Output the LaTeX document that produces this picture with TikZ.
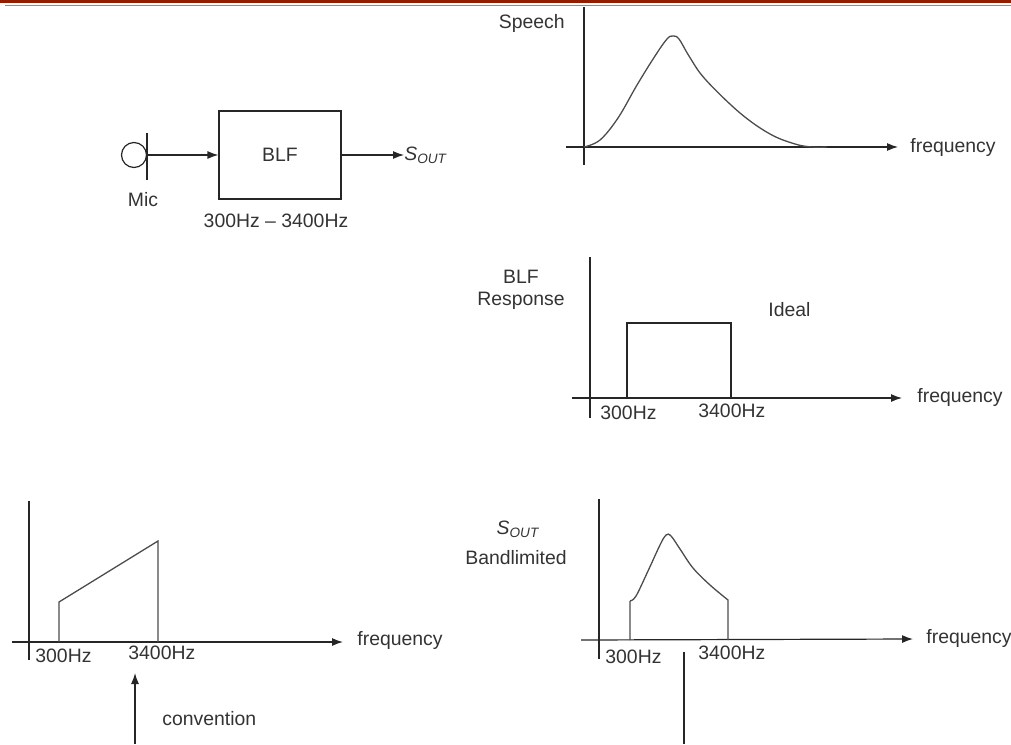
\documentclass[tikz,border=0pt]{standalone}
\usepackage{fontspec}
\setmainfont{Liberation Sans}
\usetikzlibrary{arrows.meta,positioning}
\definecolor{rulered}{RGB}{145,28,0}
\tikzset{
  axis/.style={draw=black!85,line width=0.6pt},
  sig/.style={draw=black!70,line width=0.65pt},
  lbl/.style={inner sep=0pt,text=black!80,font=\fontsize{9.7}{11}\selectfont},
  tip/.style={-{Latex[length=5.5pt,width=4pt]}}
}
\newcommand{\soutlbl}{{\itshape S\textsubscript{OUT}}}

\begin{document}
\begin{tikzpicture}[x=0.5pt,y=-0.5pt]
  \useasboundingbox (0,0) rectangle (1011,744);
  % page header rule
  \fill[rulered] (0,0) rectangle (1011,3);
  \draw[black!45,line width=0.7pt] (5,5.5) -- (1011,5.5);

  % microphone and band limiting filter
  \begin{scope}
    \node[axis,circle,minimum size=12.5pt,inner sep=0pt] (mic) at (134,155) {};
    \coordinate (bartop) at (147,133);
    \coordinate (barbot) at (147,180);
    \draw[axis] (bartop) -- (barbot);
    \node[axis,lbl,minimum width=61pt,minimum height=44pt] (blf) at (280,155) {BLF};
    \node[lbl,anchor=west] (soutA) at (404,155) {\soutlbl};
    \draw[axis,tip] (bartop |- mic) -- (blf.west);
    \draw[axis,tip] (blf.east) -- (soutA.west);
    \node[lbl] (miclbl) at (143,200) {Mic};
    \node[lbl] (band) at (276,221) {300Hz -- 3400Hz};
  \end{scope}

  % speech spectrum
  \begin{scope}
    \coordinate (spTop) at (584,7);
    \coordinate (spBot) at (584,165);
    \coordinate (spL) at (566,147);
    \node[lbl,anchor=west] (spF) at (910,147) {frequency};
    \node[lbl,anchor=east] (spY) at (565,23) {Speech};
    \draw[axis] (spTop) -- (spBot);
    \draw[axis,tip] (spL) -- (898,147);
    \draw[sig] plot[smooth,tension=0.6] coordinates {(584,147) (600,140) (618,118) (637,85)
      (655,56) (667,39) (673,36) (679,39) (689,56) (705,79) (740,113) (770,134)
      (795,144) (812,147) (827,147)};
  \end{scope}

  % ideal filter response
  \begin{scope}
    \coordinate (rsTop) at (590,257);
    \coordinate (rsBot) at (590,418);
    \coordinate (rsL) at (572,398);
    \node[lbl,anchor=west] (rsF) at (917,397) {frequency};
    \node[lbl,align=center] (rsY) at (521,290) {BLF\\Response};
    \node[lbl,anchor=west] (ideal) at (768,310) {Ideal};
    \node[lbl,anchor=west] (rsLo) at (600,413) {300Hz};
    \node[lbl,anchor=west] (rsHi) at (698,411) {3400Hz};
    \draw[axis] (rsTop) -- (rsBot);
    \draw[axis,tip] (rsL) -- (902,398);
    \draw[axis] (627,398) rectangle (731,323);
  \end{scope}

  % convention sketch
  \begin{scope}
    \coordinate (cvTop) at (29,501);
    \coordinate (cvBot) at (29,660);
    \coordinate (cvL) at (12,642);
    \node[lbl,anchor=west] (cvF) at (357,640) {frequency};
    \node[lbl,anchor=west] (cvLo) at (35,656) {300Hz};
    \node[lbl,anchor=west] (cvHi) at (128,653) {3400Hz};
    \node[lbl,anchor=west] (conv) at (162,719) {convention};
    \coordinate (convFoot) at (135,744);
    \coordinate (convHead) at (135,673);
    \draw[axis] (cvTop) -- (cvBot);
    \draw[axis,tip] (cvL) -- (343,642);
    \draw[sig] (59,642) -- (59,602) -- (158,541) -- (158,642);
    \draw[axis,tip] (convFoot) -- (convHead);
  \end{scope}

  % band limited output
  \begin{scope}
    \coordinate (blTop) at (599,499);
    \coordinate (blBot) at (599,659);
    \coordinate (blL) at (581,640);
    \node[lbl,anchor=west] (blF) at (926,638) {frequency};
    \node[lbl] (blS) at (518,529) {\soutlbl};
    \node[lbl] (blY) at (516,558) {Bandlimited};
    \node[lbl,anchor=west] (blLo) at (605,657) {300Hz};
    \node[lbl,anchor=west] (blHi) at (698,653) {3400Hz};
    \coordinate (markTop) at (684,652);
    \coordinate (markFoot) at (684,744);
    \draw[axis] (blTop) -- (blBot);
    \draw[axis,tip] (blL) -- (913,639);
    \draw[sig] (630,640) -- (630,601) plot[smooth,tension=0.6] coordinates {(630,601) (636,596)
      (648,571) (660,545) (666,535) (671,536) (680,549) (693,568) (710,585) (728,600)}
      -- (728,640);
    \draw[axis] (markTop) -- (markFoot);
  \end{scope}
\end{tikzpicture}
\end{document}
